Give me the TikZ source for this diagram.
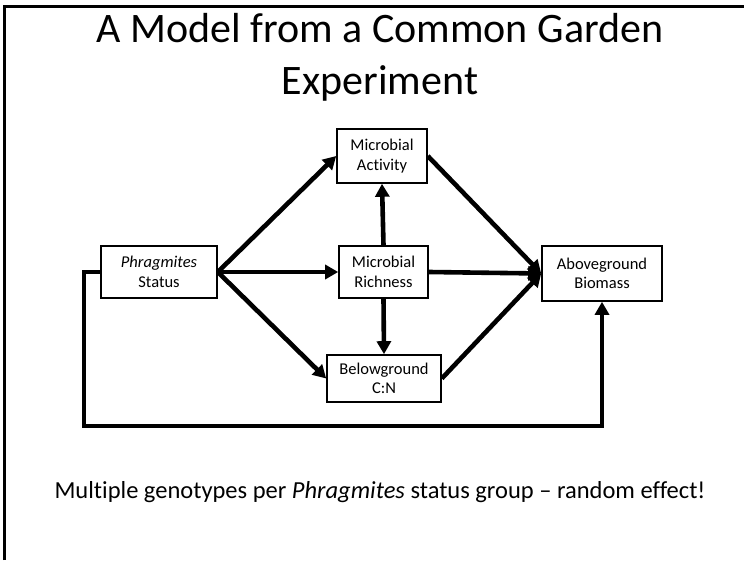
\documentclass[tikz,border=0pt]{standalone}
\usepackage{fontspec}
\setmainfont{Carlito}[Ligatures=NoCommon]
\usetikzlibrary{arrows.meta}
\begin{document}
\begin{tikzpicture}[x=1pt,y=1pt,
  varbox/.style={draw, line width=1.6pt, inner sep=0pt, align=center,
    font=\fontsize{16.5}{19.5}\selectfont},
  path arrow/.style={line width=4.6pt,
    -{Triangle[length=13pt,width=14pt]}},
  titletext/.style={anchor=base, inner sep=0pt, font=\fontsize{42}{50}\selectfont}]
  \useasboundingbox (0,0) rectangle (744,560);
  % slide frame (top and left edges)
  \draw[line width=2.2pt] (4.5,0) -- (4.5,553.5) -- (744,553.5);

  % title
  \node[titletext] (title1) at (380,517) {A Model from a Common Garden};
  \node[titletext] (title2) at (380,465) {Experiment};

  % variables
  \node[varbox, minimum width=116pt, minimum height=52pt] (phrag) at (159,288)
    {\textit{Phragmites}\\Status};
  \node[varbox, minimum width=90pt, minimum height=54pt] (act) at (382,404)
    {Microbial\\Activity};
  \node[varbox, minimum width=89pt, minimum height=52pt] (rich) at (383.5,288)
    {Microbial\\Richness};
  \node[varbox, minimum width=114pt, minimum height=47pt] (below) at (384,181.5)
    {Belowground\\C:N};
  \node[varbox, minimum width=120pt, minimum height=55pt] (above) at (602,286.5)
    {Aboveground\\Biomass};

  % paths
  \draw[path arrow] (phrag.east) -- (act.west);
  \draw[path arrow] (phrag.east) -- (rich.west);
  \draw[path arrow] (phrag.east) -- (below.west);
  \draw[path arrow] (rich.north) -- (act.south);
  \draw[path arrow] (rich.south) -- (below.north);
  \draw[path arrow] (act.east) -- (above.west);
  \draw[path arrow] (rich.east) -- (above.west);
  \draw[path arrow] (below.east) -- (above.west);

  % direct path running below the diagram
  \coordinate (loop) at (84,134);
  \draw[path arrow, line join=miter] (phrag.west) -| (loop) -| (above.south);

  % note
  \node (note) at (380,62) [anchor=base, inner sep=0pt, font=\fontsize{24.5}{29}\selectfont]
    {Multiple genotypes per \textit{Phragmites} status group -- random effect!};
\end{tikzpicture}
\end{document}
